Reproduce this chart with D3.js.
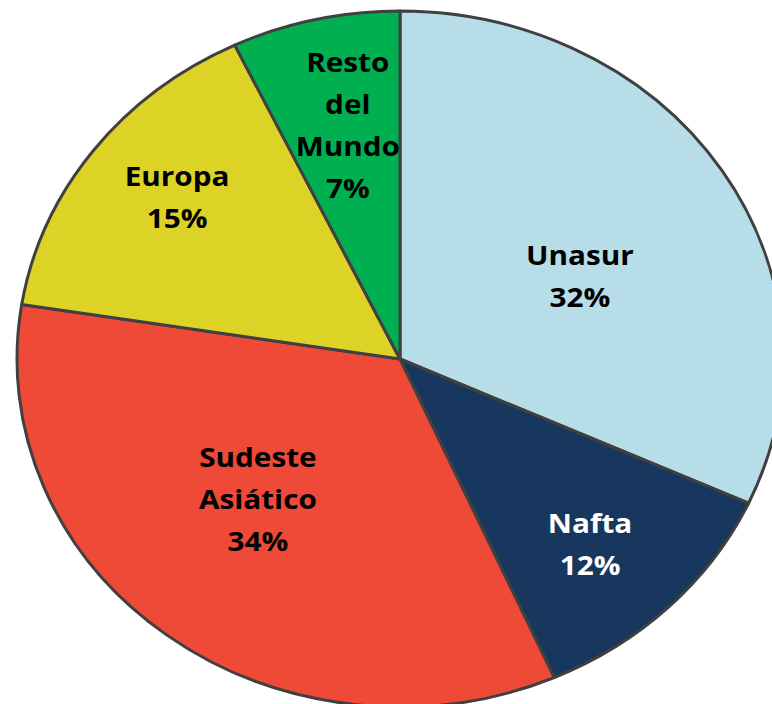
<!DOCTYPE html>
<html>
<head>
<meta charset="utf-8">
<script src="https://cdn.jsdelivr.net/npm/d3@7"></script>
<style>
  body { margin: 0; background: #fff; }
  svg { display: block; }
  .label { font-family: "Open Sans", sans-serif; font-weight: 700; font-size: 27px; }
</style>
</head>
<body>
<svg id="chart"></svg>
<script>
// Data
var regions = ['Unasur', 'Nafta', 'Sudeste Asiático', 'Europa', 'Resto del Mundo'];
var shares = [31.8, 11.6, 34.1, 15.4, 7.1];
var labelLines = [['Unasur'], ['Nafta'], ['Sudeste', 'Asiático'], ['Europa'], ['Resto', 'del', 'Mundo']];

// Style and label layout
var colors = ['#B7DEE8', '#17375E', '#EE4A37', '#DDD326', '#00B050'];
var textColors = ['#000', '#fff', '#000', '#000', '#000'];
var labelRadius = [0.527, 0.727, 0.548, 0.746, 0.685];
var labelTurn = [5.8, 1.6, 5.0, 2.0, 1.3];

var width = 772, height = 704;
var cx = 400, cy = 359;
var rx = 383, ry = 348;
var R = 100;
var lineHeight = 42;

var svg = d3.select('#chart')
    .attr('width', width)
    .attr('height', height);

var pie = d3.pie().sort(null).value(function(d) { return d; });
var arcs = pie(shares);
var arc = d3.arc().innerRadius(0).outerRadius(R);

// Pie drawn as a circle and stretched into an ellipse
var g = svg.append('g')
    .attr('transform', 'translate(' + cx + ',' + cy + ') scale(' + (rx / R) + ',' + (ry / R) + ')');

g.selectAll('path')
    .data(arcs)
    .enter()
    .append('path')
    .attr('d', arc)
    .attr('fill', function(d, i) { return colors[i]; })
    .attr('stroke', '#404040')
    .attr('stroke-width', 3)
    .attr('stroke-linejoin', 'round')
    .attr('vector-effect', 'non-scaling-stroke');

// Labels
var labels = svg.selectAll('.label')
    .data(arcs)
    .enter()
    .append('text')
    .attr('class', 'label')
    .attr('text-anchor', 'middle')
    .attr('fill', function(d, i) { return textColors[i]; })
    .attr('transform', function(d, i) {
        var a = (d.startAngle + d.endAngle) / 2 + labelTurn[i] * Math.PI / 180;
        var x = cx + rx * labelRadius[i] * Math.sin(a);
        var y = cy - ry * labelRadius[i] * Math.cos(a);
        return 'translate(' + x + ',' + y + ') scale(' + (rx / ry) + ',1)';
    });

labels.each(function(d, i) {
    var lines = labelLines[i].concat([Math.round(shares[i]) + '%']);
    var n = lines.length;
    d3.select(this).selectAll('tspan')
        .data(lines)
        .enter()
        .append('tspan')
        .attr('x', 0)
        .attr('y', function(t, j) { return (j - (n - 1) / 2) * lineHeight + 10; })
        .text(function(t) { return t; });
});
</script>
</body>
</html>
